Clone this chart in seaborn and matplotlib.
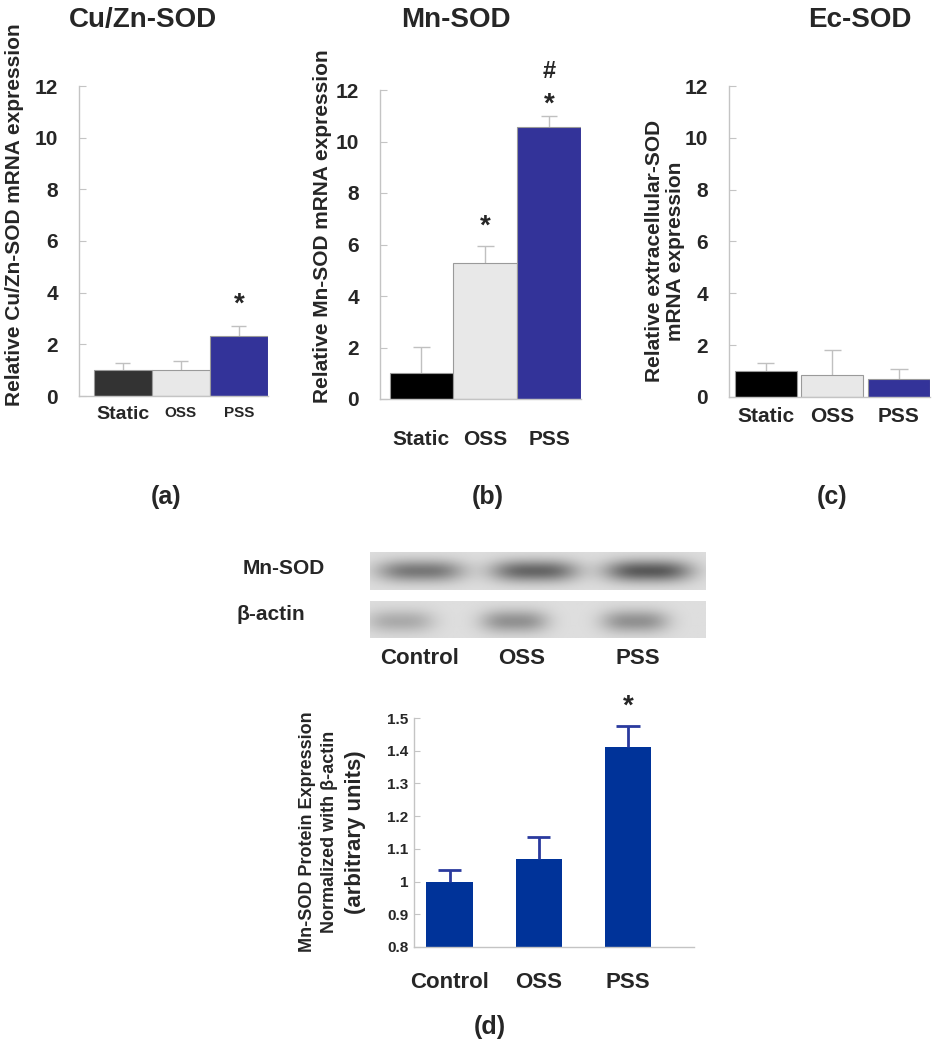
import numpy as np
import pandas as pd
import seaborn as sns
import matplotlib
matplotlib.use("Agg")
import matplotlib.pyplot as plt

# ---------------- data ----------------
groups_abc = ["Static", "OSS", "PSS"]
cuzn_mean = [1.0, 1.0, 2.33]
cuzn_err = [0.29, 0.35, 0.37]
mn_mean = [1.0, 5.28, 10.56]
mn_err = [1.02, 0.66, 0.44]
ec_mean = [1.0, 0.85, 0.70]
ec_err = [0.31, 0.96, 0.38]

groups_d = ["Control", "OSS", "PSS"]
prot_mean = [1.0, 1.07, 1.41]
prot_err = [0.035, 0.067, 0.067]

yticks_abc = [0, 2, 4, 6, 8, 10, 12]
yticks_d = [0.8, 0.9, 1.0, 1.1, 1.2, 1.3, 1.4, 1.5]
ytick_labels_d = ["0.8", "0.9", "1", "1.1", "1.2", "1.3", "1.4", "1.5"]

band_mnsod = [0.40, 0.47, 0.52]   # blot band darkness per lane
band_actin = [0.20, 0.30, 0.30]

# ---------------- style ----------------
sns.set_style("white")
plt.rcParams["font.family"] = ["Liberation Sans", "DejaVu Sans"]
plt.rcParams["font.weight"] = "bold"

W, H = 935, 1050
fig = plt.figure(figsize=(W / 100, H / 100), dpi=100)


def add_ax(l, t, r, b):
    return fig.add_axes([l / W, 1 - b / H, (r - l) / W, (b - t) / H])


def ftext(x, y, s, **kw):
    return fig.text(x / W, 1 - y / H, s, **kw)


SPINE = "#c4c4c4"


def upper_err(ax, means, errs, color, lw, capw, z):
    x = np.arange(len(means))
    m = np.asarray(means)
    top = m + np.asarray(errs)
    ax.vlines(x, m, top, colors=color, linewidth=lw, zorder=z)
    ax.hlines(top, x - capw, x + capw, colors=color, linewidth=lw, zorder=z)


def mrna_panel(box, xlim, means, errs, colors, width, xpad, label_sizes):
    ax = add_ax(*box)
    df = pd.DataFrame({"group": groups_abc, "value": means})
    sns.barplot(data=df, x="group", y="value", hue="group", palette=colors,
                saturation=1, width=width, edgecolor="#9a9a9a", linewidth=0.8,
                legend=False, errorbar=None, ax=ax, zorder=2)
    upper_err(ax, means, errs, "#c0c0c0", 1.0, 0.13, 1)
    ax.set_xlim(*xlim)
    ax.set_ylim(0, 12)
    ax.set_yticks(yticks_abc)
    ax.set_yticklabels([str(v) for v in yticks_abc], fontsize=15, fontweight="bold")
    ax.tick_params(axis="y", direction="in", length=5, color=SPINE, pad=15, left=True)
    ax.tick_params(axis="x", length=0, pad=xpad)
    for lab, fs in zip(ax.get_xticklabels(), label_sizes):
        lab.set_fontsize(fs)
        lab.set_fontweight("bold")
    ax.set_xlabel("")
    ax.set_ylabel("")
    for s in ["top", "right"]:
        ax.spines[s].set_visible(False)
    for s in ["left", "bottom"]:
        ax.spines[s].set_color(SPINE)
        ax.spines[s].set_linewidth(1.0)
    return ax


# (a) Cu/Zn-SOD
ax_a = mrna_panel((79, 86, 268, 396), (-0.75, 2.5), cuzn_mean, cuzn_err,
                  ["#333333", "#e8e8e8", "#333399"], 1.0, 7, [14, 11, 11])
ax_a.text(2, 3.55, "*", ha="center", va="center", fontsize=20, fontweight="bold")

# (b) Mn-SOD
ax_b = mrna_panel((380, 90, 581, 399), (-0.65, 2.5), mn_mean, mn_err,
                  ["#000000", "#e8e8e8", "#333399"], 1.0, 22, [15, 15, 15])
ax_b.text(1, 6.7, "*", ha="center", va="center", fontsize=20, fontweight="bold")
ax_b.text(2, 11.45, "*", ha="center", va="center", fontsize=20, fontweight="bold",
          clip_on=False)
ax_b.text(2, 12.7, "#", ha="center", va="center", fontsize=17, fontweight="bold",
          clip_on=False)

# (c) Ec-SOD
ax_c = mrna_panel((729, 86, 930, 397), (-0.55, 2.465), ec_mean, ec_err,
                  ["#000000", "#e8e8e8", "#333399"], 0.93, 7, [15, 15, 15])

# y labels a-c
ftext(15, 215, "Relative Cu/Zn-SOD mRNA expression", rotation=90, ha="center",
      va="center", fontsize=15, fontweight="bold")
ftext(323, 226, "Relative Mn-SOD mRNA expression", rotation=90, ha="center",
      va="center", fontsize=15, fontweight="bold")
ftext(665, 251, "Relative extracellular-SOD\nmRNA expression", rotation=90,
      ha="center", va="center", fontsize=15, fontweight="bold",
      multialignment="center", linespacing=1.1)

# titles
ftext(143, 20, "Cu/Zn-SOD", ha="center", va="center", fontsize=20, fontweight="bold")
ftext(456, 20, "Mn-SOD", ha="center", va="center", fontsize=20, fontweight="bold")
ftext(860, 20, "Ec-SOD", ha="center", va="center", fontsize=20, fontweight="bold")

# panel letters
for x, s in [(166, "(a)"), (488, "(b)"), (832, "(c)")]:
    ftext(x, 497, s, ha="center", va="center", fontsize=18, fontweight="bold")
ftext(490, 1027, "(d)", ha="center", va="center", fontsize=18, fontweight="bold")

# ---------------- western blot strips ----------------
def blot(box, darkness, centers, halfw, ycen, ysig):
    ax = add_ax(*box)
    cols, rows = 340, 40
    xx = np.linspace(0, 1, cols)[None, :]
    yy = np.linspace(0, 1, rows)[:, None]
    img = np.full((rows, cols), 0.87)
    for d, c in zip(darkness, centers):
        prof_x = np.exp(-np.abs((xx - c) / halfw) ** 3)
        prof_y = np.exp(-((yy - ycen) / ysig) ** 2)
        img = img - d * prof_x * prof_y
    ax.imshow(img, cmap="gray", vmin=0, vmax=1, aspect="auto",
              interpolation="bilinear")
    ax.set_axis_off()
    return ax


blot((370, 552, 706, 590), band_mnsod, [0.15, 0.49, 0.83], 0.13, 0.5, 0.30)
blot((370, 601, 706, 638), band_actin, [0.09, 0.43, 0.79], 0.10, 0.55, 0.32)
ftext(243, 569, "Mn-SOD", ha="left", va="center", fontsize=15, fontweight="bold")
ftext(237, 614, "β-actin", ha="left", va="center", fontsize=15, fontweight="bold")
for x, s in [(420, "Control"), (522, "OSS"), (638, "PSS")]:
    ftext(x, 658, s, ha="center", va="center", fontsize=16, fontweight="bold")

# ---------------- (d) protein bar chart ----------------
ax_d = add_ax(414, 718, 694, 947)
df_d = pd.DataFrame({"group": groups_d, "value": prot_mean})
sns.barplot(data=df_d, x="group", y="value", color="#003399", saturation=1,
            width=0.52, errorbar=None, ax=ax_d, zorder=2, linewidth=0)
upper_err(ax_d, prot_mean, prot_err, "#2a3a9e", 2.0, 0.13, 3)
ax_d.set_xlim(-0.4, 2.74)
ax_d.set_ylim(0.8, 1.5)
ax_d.set_yticks(yticks_d)
ax_d.set_yticklabels(ytick_labels_d, fontsize=11, fontweight="bold")
ax_d.tick_params(axis="y", direction="in", length=4, color=SPINE, pad=4, left=True)
ax_d.tick_params(axis="x", length=0, pad=18)
for lab in ax_d.get_xticklabels():
    lab.set_fontsize(16)
    lab.set_fontweight("bold")
ax_d.set_xlabel("")
ax_d.set_ylabel("")
for s in ["top", "right"]:
    ax_d.spines[s].set_visible(False)
for s in ["left", "bottom"]:
    ax_d.spines[s].set_color(SPINE)
    ax_d.spines[s].set_linewidth(1.0)
ax_d.text(2, 1.535, "*", ha="center", va="center", fontsize=20, fontweight="bold",
          clip_on=False)

ftext(307, 832, "Mn-SOD Protein Expression", rotation=90, ha="center", va="center",
      fontsize=13, fontweight="bold")
ftext(330, 832, "Normalized with β-actin", rotation=90, ha="center", va="center",
      fontsize=13, fontweight="bold")
ftext(355, 832, "(arbitrary units)", rotation=90, ha="center", va="center",
      fontsize=16, fontweight="bold")

fig.savefig("out.png", dpi=100, facecolor="white")
